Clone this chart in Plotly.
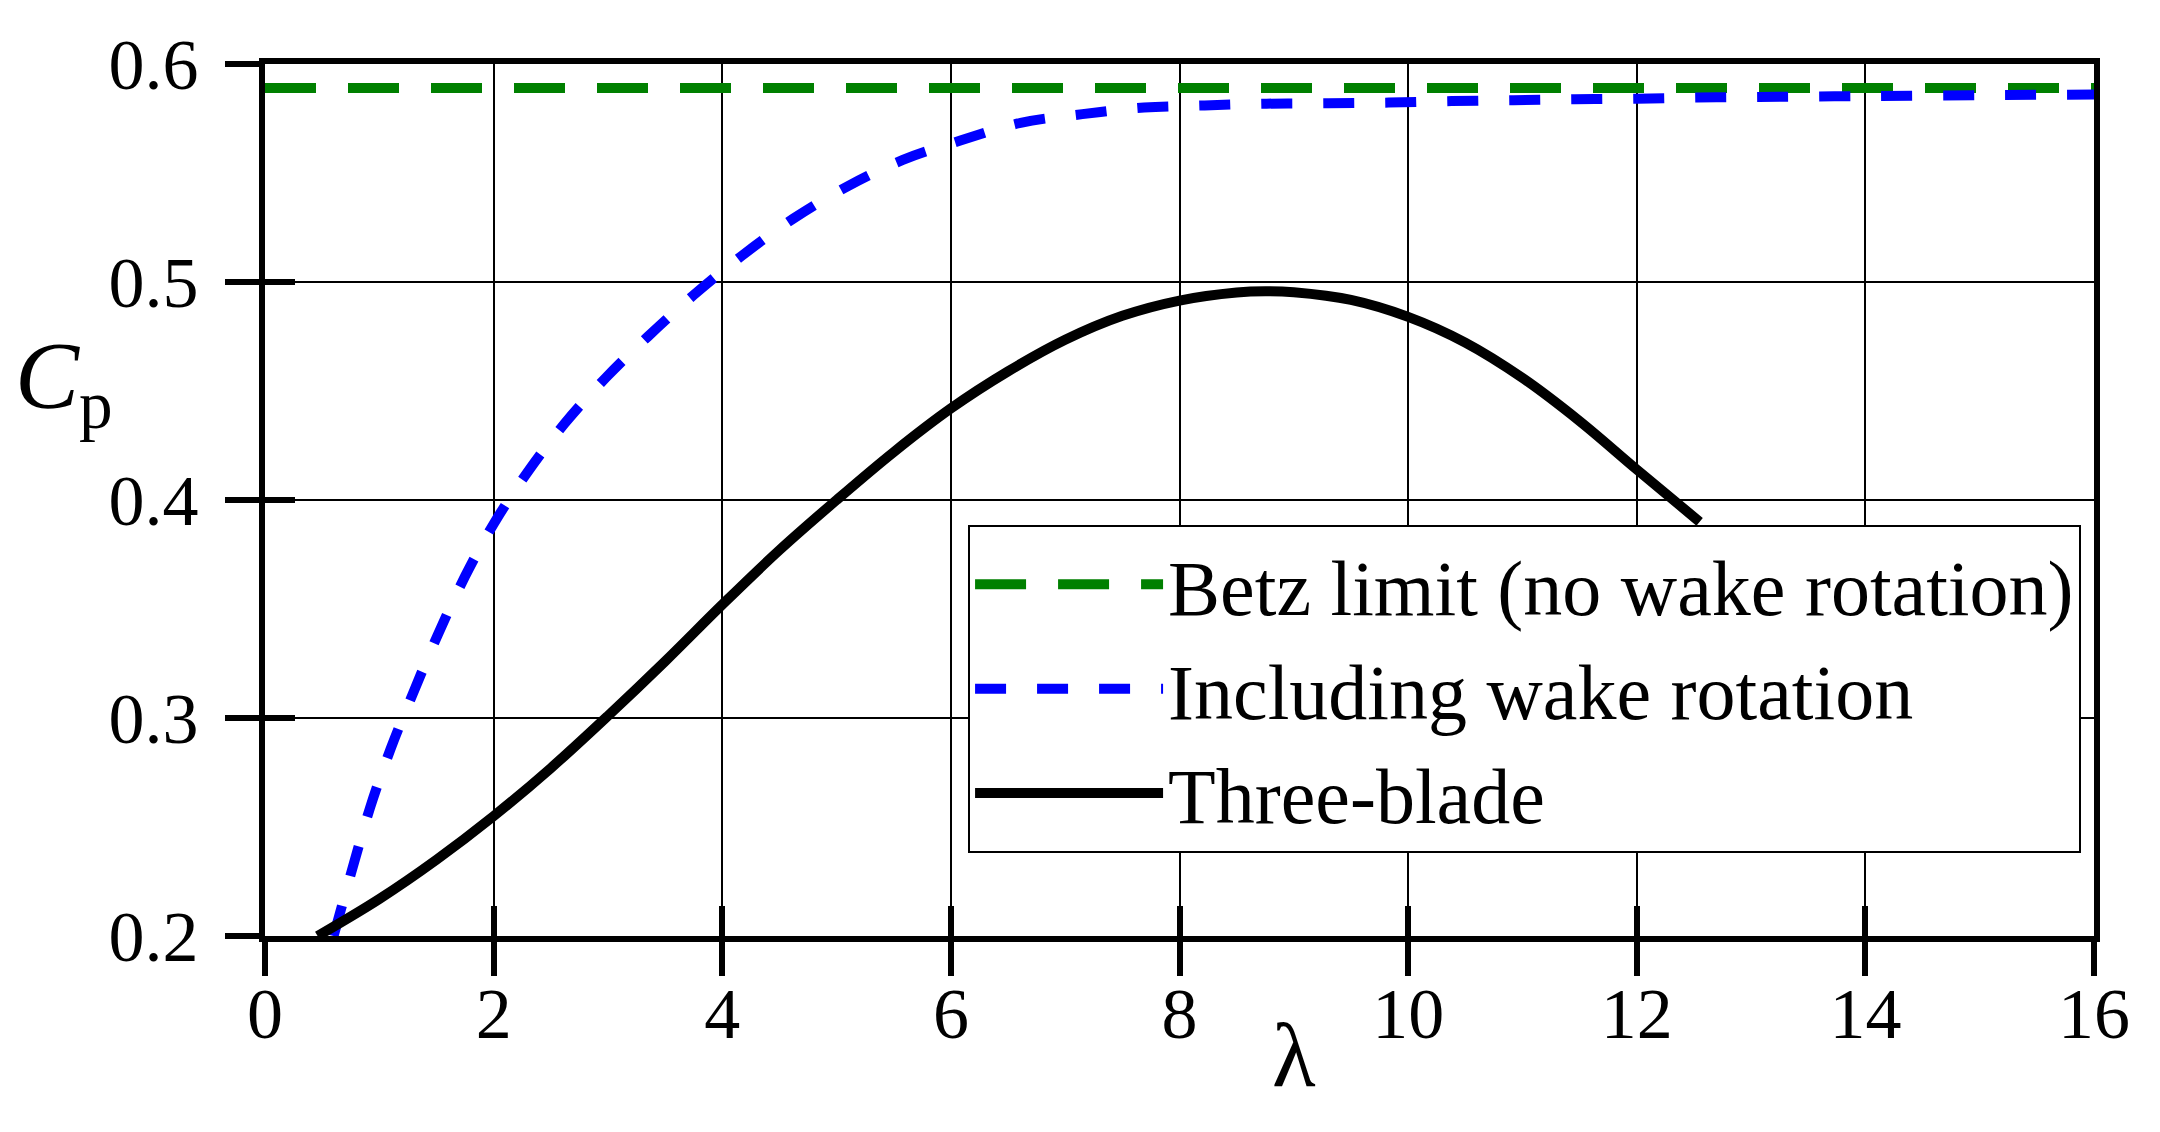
import plotly.graph_objects as go

# tip speed ratio vs power coefficient
lam_betz = [0, 16]
cp_betz = [0.589, 0.589]

lam_wake = [0.60, 0.77, 0.92, 1.10, 1.30, 1.51, 1.75, 2.00, 2.30, 2.62, 2.98, 3.35,
            3.75, 4.17, 4.62, 5.10, 5.58, 6.09, 6.61, 7.15, 7.69, 8.22, 8.76, 9.30,
            9.83, 10.38, 10.92, 11.46, 12.00, 12.53, 13.07, 14.00, 15.00, 16.00]
cp_wake = [0.200, 0.232, 0.259, 0.286, 0.312, 0.338, 0.365, 0.389, 0.413, 0.435, 0.456, 0.475,
           0.494, 0.512, 0.529, 0.544, 0.556, 0.565, 0.573, 0.577, 0.580, 0.581, 0.5818, 0.5820,
           0.5823, 0.5830, 0.5834, 0.5838, 0.5841, 0.5846, 0.5849, 0.5853, 0.5857, 0.5860]

lam_3b = [0.46, 1.0, 1.5, 2.0, 2.5, 3.0, 3.5, 4.0, 4.5, 5.0, 5.5, 6.0,
          6.5, 7.0, 7.5, 8.0, 8.5, 8.75, 9.0, 9.5, 10.0, 10.5, 11.0, 11.5, 12.0, 12.55]
cp_3b = [0.200, 0.217, 0.235, 0.255, 0.277, 0.301, 0.326, 0.352, 0.377, 0.400, 0.422, 0.442,
         0.459, 0.4735, 0.4845, 0.4915, 0.4952, 0.4958, 0.4953, 0.4918, 0.4840, 0.4722,
         0.4560, 0.4362, 0.4140, 0.3900]

x_ticks = [0, 2, 4, 6, 8, 10, 12, 14, 16]
y_ticks = [0.2, 0.3, 0.4, 0.5, 0.6]
y_labels = ["0.2", "0.3", "0.4", "0.5", "0.6"]

FONT = "Liberation Serif"

fig = go.Figure()

fig.add_trace(go.Scatter(x=lam_betz, y=cp_betz, mode="lines",
                         name="Betz limit (no wake rotation)",
                         line=dict(color="#008000", width=10, dash="51px,32px")))
fig.add_trace(go.Scatter(x=lam_wake, y=cp_wake, mode="lines",
                         name="Including wake rotation", line_shape="spline",
                         line=dict(color="#0000ff", width=10, dash="31px,31px")))
fig.add_trace(go.Scatter(x=lam_3b, y=cp_3b, mode="lines",
                         name="Three-blade", line_shape="spline",
                         line=dict(color="black", width=10)))
# empty trace so the overlay axes (inner tick halves) get drawn
fig.add_trace(go.Scatter(x=[], y=[], xaxis="x2", yaxis="y2", showlegend=False))

axis_common = dict(showline=True, linecolor="black", linewidth=6, mirror=True,
                   showgrid=True, gridcolor="black", gridwidth=2, zeroline=False,
                   ticks="outside", ticklen=34, tickwidth=6, tickcolor="black",
                   tickfont=dict(family=FONT, size=72, color="black"))

fig.update_layout(
    width=2152, height=1124,
    margin=dict(l=257, r=66, t=56, b=196),
    plot_bgcolor="white", paper_bgcolor="white",
    font=dict(family=FONT, color="black"),
    xaxis=dict(range=[0, 16], tickvals=x_ticks, ticklabelstandoff=-24, **axis_common),
    yaxis=dict(range=[0.2, 0.6], tickvals=y_ticks, ticktext=y_labels,
               ticklabelstandoff=12, **axis_common),
    xaxis2=dict(range=[0, 16], overlaying="x", anchor="y", side="bottom",
                tickvals=x_ticks, ticks="inside", ticklen=30, tickwidth=6, tickcolor="black",
                showticklabels=False, showgrid=False, zeroline=False, showline=False),
    yaxis2=dict(range=[0.2, 0.6], overlaying="y", anchor="x", side="left",
                tickvals=y_ticks, ticks="inside", ticklen=30, tickwidth=6, tickcolor="black",
                showticklabels=False, showgrid=False, zeroline=False, showline=False),
    legend=dict(x=0.3844, y=0.4713, xanchor="left", yanchor="top",
                bgcolor="white", bordercolor="black", borderwidth=2,
                itemwidth=188, font=dict(family=FONT, size=78, color="black")),
    showlegend=True,
)

fig.add_annotation(text="λ", xref="paper", yref="paper", x=0.5626, y=-0.1365,
                   xanchor="center", yanchor="middle", showarrow=False,
                   font=dict(family=FONT, size=90, color="black"))
fig.add_annotation(text="<i>C</i><sub>p</sub>", xref="paper", yref="paper", x=-0.1099, y=0.6353,
                   xanchor="center", yanchor="middle", showarrow=False,
                   font=dict(family=FONT, size=96, color="black"))

fig.write_html("out.html")
